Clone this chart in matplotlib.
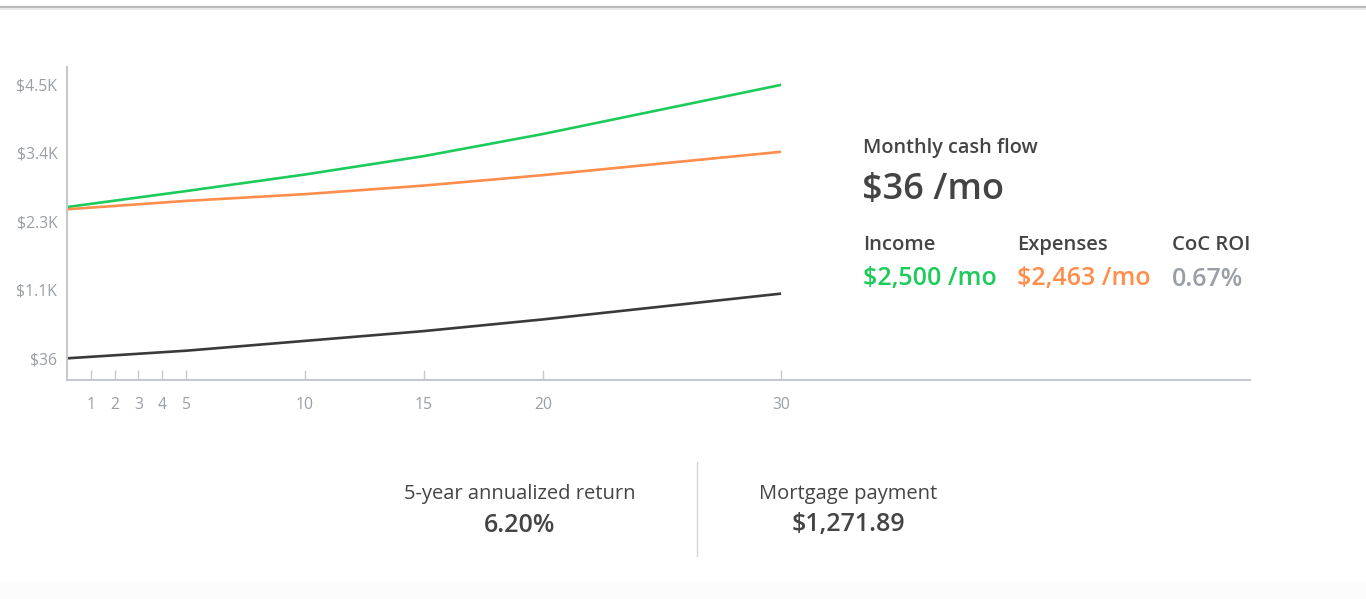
import matplotlib
matplotlib.use("Agg")
import matplotlib.pyplot as plt
from matplotlib.lines import Line2D
from matplotlib.patches import Rectangle

plt.rcParams['font.family'] = ['Open Sans', 'DejaVu Sans']

W, H = 1366, 599

years = [0, 5, 10, 15, 20, 30]
income = [2500, 2760, 3030, 3330, 3690, 4490]
expenses = [2463, 2600, 2710, 2850, 3020, 3400]
cash_flow = [36, 160, 320, 480, 670, 1090]

x_ticks = [1, 2, 3, 4, 5, 10, 15, 20, 30]
y_ticks = [36, 1152, 2268, 3384, 4500]
y_labels = ['$36', '$1.1K', '$2.3K', '$3.4K', '$4.5K']

GREEN = '#1ccb5a'
ORANGE = '#ff8d4b'
DARK = '#3a3a3a'
GRAY_TXT = '#9a9fa5'
AXIS = '#c5c9cd'


def fx(x):
    return x / W


def fy(y):
    return 1 - y / H


fig = plt.figure(figsize=(W / 100, H / 100), dpi=100)
fig.patch.set_facecolor('white')

# chart area
ax = fig.add_axes([fx(67), fy(380), fx(1250) - fx(67), fy(67) - fy(380)])
ax.plot(years, income, color=GREEN, lw=1.9, solid_capstyle='butt')
ax.plot(years, expenses, color=ORANGE, lw=1.9, solid_capstyle='butt')
ax.plot(years, cash_flow, color=DARK, lw=1.9, solid_capstyle='butt')

ax.set_xlim(0, 49.7)
ax.set_ylim(-317, 4781)
ax.set_xticks(x_ticks)
ax.set_xticklabels([str(t) for t in x_ticks])
ax.set_yticks(y_ticks)
ax.set_yticklabels(y_labels)
ax.tick_params(axis='x', direction='in', length=7, width=1, color=AXIS,
               pad=12, labelsize=11.3, labelcolor=GRAY_TXT)
ax.tick_params(axis='y', length=0, pad=7, labelsize=11.3, labelcolor=GRAY_TXT)
for s in ['top', 'right']:
    ax.spines[s].set_visible(False)
for s in ['left', 'bottom']:
    ax.spines[s].set_color(AXIS)
    ax.spines[s].set_linewidth(1.5)

# summary on the right
fig.text(fx(863), fy(148), 'Monthly cash flow', fontsize=14.3, fontweight='semibold',
         color='#444444', va='center', ha='left')
fig.text(fx(862), fy(190), '$36 /mo', fontsize=26, fontweight='semibold',
         color='#444444', va='center', ha='left')

cols = [(863, 'Income', '$2,500 /mo', GREEN),
        (1017, 'Expenses', '$2,463 /mo', ORANGE),
        (1172, 'CoC ROI', '0.67%', GRAY_TXT)]
for x, head, val, c in cols:
    fig.text(fx(x), fy(245), head, fontsize=14.6, fontweight='semibold',
             color='#444444', va='center', ha='left')
    fig.text(fx(x), fy(279), val, fontsize=18, fontweight='semibold',
             color=c, va='center', ha='left')

# bottom stats
fig.text(fx(520), fy(494), '5-year annualized return', fontsize=14.5,
         color='#444444', va='center', ha='center')
fig.text(fx(520), fy(525), '6.20%', fontsize=18, fontweight='semibold',
         color='#444444', va='center', ha='center')
fig.text(fx(848), fy(494), 'Mortgage payment', fontsize=14.5,
         color='#444444', va='center', ha='center')
fig.text(fx(848), fy(525), '$1,271.89', fontsize=18, fontweight='semibold',
         color='#444444', va='center', ha='center')
fig.add_artist(Line2D([fx(697), fx(697)], [fy(462), fy(556)], color='#d6d6d6', lw=1))

# page frame: top border and faint bottom band
fig.add_artist(Line2D([0, 1], [fy(6.5), fy(6.5)], color='#bcbcbc', lw=1.6))
fig.add_artist(Line2D([0, 1], [fy(8.5), fy(8.5)], color='#e6e6e6', lw=1.2))
fig.add_artist(Rectangle((0, 0), 1, fy(583), transform=fig.transFigure,
                         facecolor='#fcfcfc', edgecolor='none', zorder=-1))

fig.savefig('out.png', dpi=100, facecolor='white')
